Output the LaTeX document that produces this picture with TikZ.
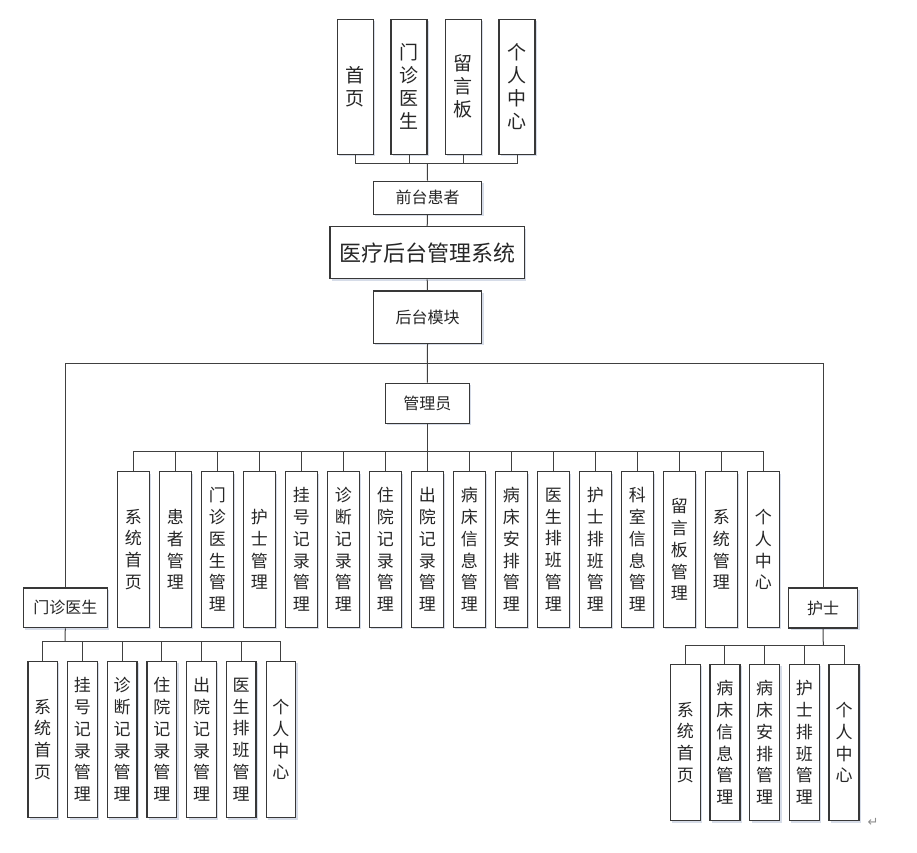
\documentclass[tikz,border=0pt]{standalone}
\usepackage{fontspec}
\setmainfont{Noto Sans CJK SC}
\newfontfamily\symfont{DejaVu Sans}
\usetikzlibrary{shadows}
\definecolor{shadowc}{RGB}{214,220,232}
\tikzset{
  box/.style={draw=black!78, line width=1.3pt, fill=white, inner sep=0pt, align=center, text=black!85,
    drop shadow={shadow xshift=2pt, shadow yshift=-2pt, fill=shadowc, opacity=1}},
  topbox/.style={box, minimum width=36pt, minimum height=135pt, font=\fontsize{19}{23}\selectfont},
  hbox/.style={box, font=\fontsize{16}{18}\selectfont},
  abox/.style={box, minimum width=32pt, minimum height=155.6pt, font=\fontsize{17}{21.8}\selectfont},
  dbox/.style={box, minimum width=29.5pt, minimum height=156.4pt, font=\fontsize{17}{21.8}\selectfont},
  conn/.style={draw=black!75, line width=1pt},
}
\begin{document}
\begin{tikzpicture}[x=1pt,y=-1pt]
\useasboundingbox (0,0) rectangle (917,852);
% top level
\node[topbox] (t1) at (355.3,86.7) {首\\页};
\node[topbox] (t2) at (409.1,86.7) {门\\诊\\医\\生};
\node[topbox] (t3) at (463.2,86.7) {留\\言\\板};
\node[topbox] (t4) at (517.0,86.7) {个\\人\\中\\心};
\node[hbox, minimum width=108.4pt, minimum height=33pt] (front) at (427.5,197.8) {前台患者};
\node[box, minimum width=194.3pt, minimum height=52pt, font=\fontsize{22}{24}\selectfont] (sys) at (427.2,252.7) {医疗后台管理系统};
\node[hbox, minimum width=108.4pt, minimum height=52.3pt] (back) at (427.5,317.2) {后台模块};
\node[hbox, minimum width=84pt, minimum height=40pt] (admin) at (427.3,403.3) {管理员};
\node[hbox, minimum width=84pt, minimum height=39.7pt] (doc) at (65.3,607.8) {门诊医生};
\node[hbox, minimum width=69pt, minimum height=40pt] (nurse) at (823.0,608.0) {护士};

\coordinate (tbus) at (427.3,163.3);
\coordinate (hbus) at (427.3,363.3);
\coordinate (abus) at (427.3,451.7);
\coordinate (dbus) at (65.0,641.7);
\coordinate (nbus) at (823.3,645.0);

% top connectors
\foreach \k in {1,...,4} {\draw[conn] (t\k.south) |- (tbus);}
\draw[conn] (front.north) -- (tbus);
\draw[conn] (front.south) -- (sys.north);
\draw[conn] (sys.south) -- (back.north);
\draw[conn] (back.south) -- (admin.north);
\draw[conn] (doc.north) |- (hbus);
\draw[conn] (nurse.north) |- (hbus);
\draw[conn] (admin.south) -- (abus);
\draw[conn] (doc.south) -- (dbus);
\draw[conn] (nurse.south) -- (nbus);

% admin children
\foreach \lbl [count=\i from 0] in {{系\\统\\首\\页},{患\\者\\管\\理},{门\\诊\\医\\生\\管\\理},{护\\士\\管\\理},
  {挂\\号\\记\\录\\管\\理},{诊\\断\\记\\录\\管\\理},{住\\院\\记\\录\\管\\理},{出\\院\\记\\录\\管\\理},
  {病\\床\\信\\息\\管\\理},{病\\床\\安\\排\\管\\理},{医\\生\\排\\班\\管\\理},{护\\士\\排\\班\\管\\理},
  {科\\室\\信\\息\\管\\理},{留\\言\\板\\管\\理},{系\\统\\管\\理},{个\\人\\中\\心}} {
  \node[abox] (a\i) at (133.3+42*\i,549.5) {\lbl};
  \draw[conn] (a\i.north) |- (abus);
}
% doctor children
\foreach \lbl [count=\i from 0] in {{系\\统\\首\\页},{挂\\号\\记\\录\\管\\理},{诊\\断\\记\\录\\管\\理},
  {住\\院\\记\\录\\管\\理},{出\\院\\记\\录\\管\\理},{医\\生\\排\\班\\管\\理},{个\\人\\中\\心}} {
  \node[dbox] (d\i) at (42.7+39.7*\i,739.5) {\lbl};
  \draw[conn] (d\i.north) |- (dbus);
}
% nurse children
\foreach \lbl [count=\i from 0] in {{系\\统\\首\\页},{病\\床\\信\\息\\管\\理},{病\\床\\安\\排\\管\\理},
  {护\\士\\排\\班\\管\\理},{个\\人\\中\\心}} {
  \node[dbox, minimum width=30pt] (n\i) at (685.3+39.675*\i,742.5) {\lbl};
  \draw[conn] (n\i.north) |- (nbus);
}
\node[text=black!45, font=\symfont\fontsize{13}{13}\selectfont, inner sep=0pt] (ret) at (873,822) {↵};
\end{tikzpicture}
\end{document}
